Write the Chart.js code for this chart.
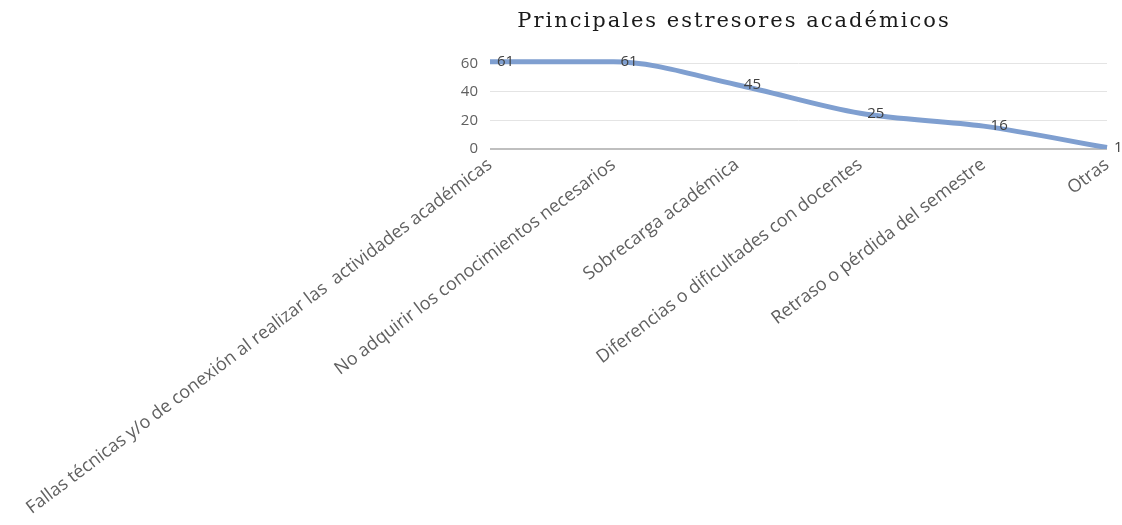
<!DOCTYPE html>
<html>
<head>
<meta charset="utf-8">
<script src="https://cdn.jsdelivr.net/npm/chart.js@4/dist/chart.umd.min.js"></script>
<style>
  html, body { margin: 0; padding: 0; background: #fff; }
  #wrap { width: 1122px; height: 525px; position: relative; }
</style>
</head>
<body>
<div id="wrap"><canvas id="chart"></canvas></div>
<script>
const chartTitle = "Principales estresores académicos";
const categories = [
    "Fallas técnicas y/o de conexión al realizar las  actividades académicas",
    "No adquirir los conocimientos necesarios",
    "Sobrecarga académica",
    "Diferencias o dificultades con docentes",
    "Retraso o pérdida del semestre",
    "Otras"
];
const values = [61, 61, 45, 25, 16, 1];
const yTicks = [0, 20, 40, 60];

const textGray = "#606060";

// value labels to the right of each point
const valueLabels = {
    id: "valueLabels",
    afterDatasetsDraw(chart) {
        const ctx = chart.ctx;
        const meta = chart.getDatasetMeta(0);
        ctx.save();
        ctx.font = "15px 'Open Sans'";
        ctx.fillStyle = "#404040";
        ctx.textAlign = "left";
        ctx.textBaseline = "middle";
        meta.data.forEach((pt, i) => {
            ctx.fillText(values[i], pt.x + 7, pt.y);
        });
        ctx.restore();
    }
};

// title drawn above the plot, a bit left of centre like the original
const titlePlugin = {
    id: "titlePlugin",
    afterDraw(chart) {
        const ctx = chart.ctx;
        ctx.save();
        ctx.font = "21px 'DejaVu Serif'";
        ctx.fillStyle = "#1a1a1a";
        ctx.textAlign = "center";
        ctx.textBaseline = "middle";
        if ("letterSpacing" in ctx) ctx.letterSpacing = "2px";
        ctx.fillText(chartTitle, 734, 22);
        ctx.restore();
    }
};

new Chart(document.getElementById("chart"), {
    type: "line",
    data: {
        labels: categories,
        datasets: [{
            data: values,
            borderColor: "#7f9fd0",
            borderWidth: 5,
            pointRadius: 0,
            cubicInterpolationMode: "monotone",
            fill: false
        }]
    },
    options: {
        responsive: true,
        maintainAspectRatio: false,
        animation: false,
        layout: { padding: { top: 49, right: 15, left: 0, bottom: 0 } },
        plugins: {
            legend: { display: false },
            title: { display: false },
            tooltip: { enabled: false }
        },
        scales: {
            x: {
                offset: false,
                grid: { display: false },
                border: { display: false },
                afterFit(scale) {
                    scale.height = 376;
                    scale.paddingLeft = 0;
                    scale.paddingRight = 0;
                },
                ticks: {
                    color: textGray,
                    font: { family: "'Open Sans'", size: 18 },
                    minRotation: 37,
                    maxRotation: 37,
                    autoSkip: false,
                    padding: -3
                }
            },
            y: {
                min: 0,
                max: 70,
                border: { display: false },
                afterFit(scale) {
                    scale.width = 490;
                },
                grid: {
                    color: (c) => c.tick.value === 0 ? "#bfbfbf" : "#e4e4e4",
                    lineWidth: (c) => c.tick.value === 0 ? 2 : 1,
                    drawTicks: false
                },
                ticks: {
                    stepSize: 10,
                    color: textGray,
                    padding: 12,
                    font: { family: "'Open Sans'", size: 15 },
                    callback: (v) => yTicks.includes(v) ? v : ""
                }
            }
        }
    },
    plugins: [valueLabels, titlePlugin]
});
</script>
</body>
</html>
